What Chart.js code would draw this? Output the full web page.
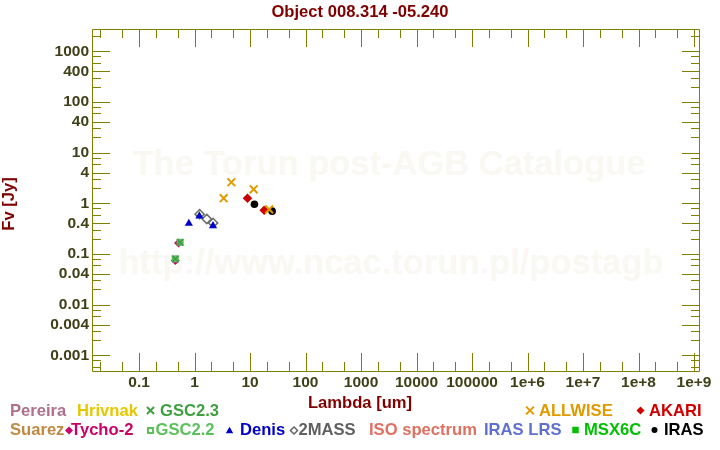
<!DOCTYPE html>
<html lang="en">
<head>
<meta charset="UTF-8">
<title>Object 008.314 -05.240</title>
<script src="https://cdn.jsdelivr.net/npm/chart.js@4.4.0/dist/chart.umd.min.js"></script>
<style>
    body { margin: 0; background: #fff; font-family: "Liberation Sans", Arial, sans-serif; }
    #wrap { position: relative; width: 720px; height: 450px; overflow: hidden; }
    #chart { position: absolute; left: 0; top: 0; z-index: 1; }
    .wm { position: absolute; z-index: 0; width: 720px; text-align: center; font-weight: bold;
          font-size: 34.5px; line-height: 40px; color: #faf8f3; white-space: nowrap; }
    .lg { position: absolute; z-index: 2; font-weight: bold; font-size: 16.6px; line-height: 20px; white-space: nowrap; }
    #title { position: absolute; z-index: 2; left: 0; width: 720px; text-align: center; top: 2px;
             font-weight: bold; font-size: 16.6px; line-height: 20px; color: #800000; }
    #xtitle { position: absolute; z-index: 2; left: 0; width: 720px; text-align: center; top: 393px;
              font-weight: bold; font-size: 16.6px; line-height: 20px; color: #800000; }
    #ytitle { position: absolute; z-index: 2; left: -41px; top: 194px; width: 100px; text-align: center;
              font-weight: bold; font-size: 16.6px; line-height: 20px; color: #800000; transform: rotate(-90deg); }
</style>
</head>
<body>
<div id="wrap">
    <div class="wm" style="left:29px; top:143px;">The Torun post-AGB Catalogue</div>
    <div class="wm" style="left:31px; top:242px;">http://www.ncac.torun.pl/postagb</div>
    <canvas id="chart" width="720" height="450"></canvas>
    <div id="title">Object 008.314 -05.240</div>
    <div id="xtitle">Lambda [um]</div>
    <div id="ytitle">Fv [Jy]</div>
</div>

<script>
    // axis ticks
    const xTickValues = [0.1, 1, 10, 100, 1000, 1e4, 1e5, 1e6, 1e7, 1e8, 1e9];
    const xTickLabels = ['0.1', '1', '10', '100', '1000', '10000', '100000', '1e+6', '1e+7', '1e+8', '1e+9'];
    const yTickValues = [0.001, 0.004, 0.01, 0.04, 0.1, 0.4, 1, 4, 10, 40, 100, 400, 1000];
    const yTickLabels = ['0.001', '0.004', '0.01', '0.04', '0.1', '0.4', '1', '4', '10', '40', '100', '400', '1000'];
    const xMinorSteps = [2, 5];
    const yMinorSteps = [2, 3, 6, 8];

    // photometry (wavelength in um, flux in Jy)
    const allwiseX = [3.35, 4.6, 11.6, 22.1];
    const allwiseY = [1.26, 2.6, 1.89, 0.76];
    const akariX = [9, 18];
    const akariY = [1.26, 0.73];
    const irasX = [12, 25];
    const irasY = [0.955, 0.70];
    const denisX = [0.79, 1.22, 2.15];
    const denisY = [0.40, 0.56, 0.36];
    const twomassX = [1.235, 1.662, 2.159];
    const twomassY = [0.61, 0.49, 0.41];
    const gsc23X = [0.45, 0.55];
    const gsc23Y = [0.080, 0.17];
    const gsc22X = [0.45, 0.55];
    const gsc22Y = [0.080, 0.17];
    const tychoX = [0.45, 0.515];
    const tychoY = [0.074, 0.165];

    const AXIS = '#808000';
    const TICKTXT = '#404018';

    const pts = (xs, ys) => xs.map((x, i) => ({ x: x, y: ys[i] }));

    function makeTicks(scale, values, labels, steps) {
        const out = values.map((v, i) => ({ value: v, lbl: labels[i] }));
        const e0 = Math.floor(Math.log10(scale.min));
        const e1 = Math.ceil(Math.log10(scale.max));
        for (let e = e0; e <= e1; e++) {
            steps.forEach(m => {
                const v = m * Math.pow(10, e);
                if (v >= scale.min && v <= scale.max) out.push({ value: v, lbl: '' });
            });
        }
        scale.ticks = out.sort((a, b) => a.value - b.value);
    }

    // legend layout (row text + markers)
    const legendText = [
        ['Pereira', 10, 401, '#b0708c'], ['Hrivnak', 77, 401, '#e6c800'], ['GSC2.3', 160, 401, '#40a040'],
        ['ALLWISE', 539, 401, '#e09a00'], ['AKARI', 649, 401, '#d00000'],
        ['Suarez', 10, 420, '#c08a40'], ['Tycho-2', 71, 420, '#cc0066'], ['GSC2.2', 155.5, 420, '#5cc05c'],
        ['Denis', 240, 420, '#0000c8'], ['2MASS', 298.5, 420, '#606060'], ['ISO spectrum', 369, 420, '#e07060'],
        ['IRAS LRS', 484, 420, '#6070d0'], ['MSX6C', 584, 420, '#00c000'], ['IRAS', 664, 420, '#000000']
    ];
    const legendMarks = [
        { style: 'crossRot', x: 150.5, y: 410.5, r: 5, color: '#40a040', lw: 2 },
        { style: 'crossRot', x: 530, y: 410.5, r: 5.5, color: '#e09a00', lw: 2 },
        { style: 'rectRot', x: 640.5, y: 410.5, r: 4, color: '#d00000', fill: true },
        { style: 'rectRot', x: 69, y: 430.5, r: 4, color: '#cc0066', fill: true },
        { style: 'rect', x: 150.5, y: 430.5, r: 3.6, color: '#5cc05c', lw: 2 },
        { style: 'triangle', x: 229.5, y: 431, r: 4.3, color: '#0000c8', fill: true },
        { style: 'rectRot', x: 294, y: 430.5, r: 3.6, color: '#606060', lw: 1.4 },
        { style: 'rect', x: 575.5, y: 430, r: 4.6, color: '#00c000', fill: true },
        { style: 'circle', x: 654.5, y: 430, r: 3, color: '#000000', fill: true }
    ];

    const wrap = document.getElementById('wrap');
    legendText.forEach(([t, x, y, c]) => {
        const d = document.createElement('div');
        d.className = 'lg';
        d.textContent = t;
        d.style.left = x + 'px';
        d.style.top = y + 'px';
        d.style.color = c;
        wrap.appendChild(d);
    });

    const frame = {
        id: 'frame',
        beforeDatasetsDraw(chart) {
            const { ctx, chartArea: a, scales: { x, y } } = chart;
            ctx.save();
            ctx.strokeStyle = AXIS;
            ctx.lineWidth = 1;
            ctx.beginPath();
            ctx.rect(a.left + 0.5, a.top + 0.5, a.right - a.left, a.bottom - a.top);
            x.ticks.forEach(t => {
                const px = Math.round(x.getPixelForValue(t.value)) + 0.5;
                const len = t.lbl ? 18 : 9;
                ctx.moveTo(px, a.bottom); ctx.lineTo(px, a.bottom - len);
                ctx.moveTo(px, a.top); ctx.lineTo(px, a.top + len);
            });
            y.ticks.forEach(t => {
                const py = Math.round(y.getPixelForValue(t.value)) + 0.5;
                const len = t.lbl ? 18 : 9;
                ctx.moveTo(a.left, py); ctx.lineTo(a.left + len, py);
                ctx.moveTo(a.right + 1, py); ctx.lineTo(a.right + 1 - len, py);
            });
            ctx.stroke();
            ctx.restore();
        },
        afterDraw(chart) {
            const ctx = chart.ctx;
            legendMarks.forEach(m => {
                ctx.save();
                ctx.fillStyle = m.fill ? m.color : 'rgba(0,0,0,0)';
                ctx.strokeStyle = m.color;
                ctx.lineWidth = m.lw || 0;
                Chart.helpers.drawPoint(ctx, { pointStyle: m.style, radius: m.r, rotation: 0, borderWidth: m.lw || 0 }, m.x, m.y);
                ctx.restore();
            });
        }
    };

    const tickFont = { family: 'Liberation Sans', weight: 'bold', size: 15.5 };

    new Chart(document.getElementById('chart'), {
        type: 'scatter',
        data: {
            datasets: [
                { label: 'ALLWISE', data: pts(allwiseX, allwiseY), pointStyle: 'crossRot', pointRadius: 5.5,
                  borderColor: '#e09a00', backgroundColor: '#e09a00', pointBorderWidth: 2 },
                { label: 'AKARI', data: pts(akariX, akariY), pointStyle: 'rectRot', pointRadius: 4.8,
                  borderColor: '#cc0000', backgroundColor: '#cc0000', pointBorderWidth: 0 },
                { label: 'IRAS', data: pts(irasX, irasY), pointStyle: 'circle', pointRadius: 3.8,
                  borderColor: '#000', backgroundColor: '#000', pointBorderWidth: 0 },
                { label: 'Denis', data: pts(denisX, denisY), pointStyle: 'triangle', pointRadius: 4.7,
                  borderColor: '#0000c8', backgroundColor: '#0000c8', pointBorderWidth: 0 },
                { label: '2MASS', data: pts(twomassX, twomassY), pointStyle: 'rectRot', pointRadius: 4.6,
                  borderColor: '#6a6a6a', backgroundColor: 'rgba(0,0,0,0)', pointBorderWidth: 1.5 },
                { label: 'GSC2.3', data: pts(gsc23X, gsc23Y), pointStyle: 'crossRot', pointRadius: 4.5,
                  borderColor: '#3a963a', backgroundColor: '#3a963a', pointBorderWidth: 1.2 },
                { label: 'GSC2.2', data: pts(gsc22X, gsc22Y), pointStyle: 'rect', pointRadius: 5,
                  borderColor: '#5cb85c', backgroundColor: '#5cb85c', pointBorderWidth: 0 },
                { label: 'Tycho-2', data: pts(tychoX, tychoY), pointStyle: 'rectRot', pointRadius: 4.5,
                  borderColor: '#cc0066', backgroundColor: '#cc0066', pointBorderWidth: 0 }
            ]
        },
        options: {
            responsive: false,
            animation: false,
            events: [],
            layout: { padding: { left: 0, right: 21, top: 29, bottom: 0 } },
            plugins: {
                legend: { display: false },
                tooltip: { enabled: false },
                title: { display: false }
            },
            scales: {
                x: {
                    type: 'logarithmic',
                    min: 0.0142,
                    max: 1.23e9,
                    grid: { display: false, drawTicks: false },
                    border: { display: false },
                    afterBuildTicks: s => makeTicks(s, xTickValues, xTickLabels, xMinorSteps),
                    afterFit: s => { s.height = 79; },
                    ticks: {
                        autoSkip: false, maxRotation: 0, padding: 2,
                        color: TICKTXT, font: tickFont,
                        callback: (v, i, t) => t[i].lbl
                    }
                },
                y: {
                    type: 'logarithmic',
                    min: 0.00049,
                    max: 2754,
                    grid: { display: false, drawTicks: false },
                    border: { display: false },
                    afterBuildTicks: s => makeTicks(s, yTickValues, yTickLabels, yMinorSteps),
                    afterFit: s => { s.width = 92; },
                    ticks: {
                        autoSkip: false, padding: 3,
                        color: TICKTXT, font: tickFont,
                        callback: (v, i, t) => t[i].lbl
                    }
                }
            }
        },
        plugins: [frame]
    });
</script>
</body>
</html>
